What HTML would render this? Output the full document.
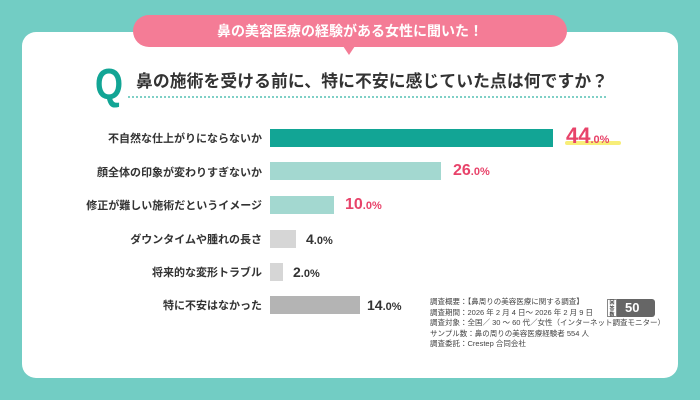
<!DOCTYPE html>
<html><head><meta charset="utf-8"><style>
body{margin:0;width:700px;height:400px;background:#72cdc4;position:relative;overflow:hidden;font-family:"Liberation Sans","Noto Sans CJK JP",sans-serif;}
.card{position:absolute;left:22px;top:32px;width:656px;height:346px;background:#fff;border-radius:14px;}
.pill{position:absolute;left:133px;top:15px;width:434px;height:32px;background:#f47c96;border-radius:16px;color:#fff;font-weight:bold;font-size:14px;text-align:center;line-height:32px;}
.tri{position:absolute;left:343px;top:46px;width:0;height:0;border-left:6px solid transparent;border-right:6px solid transparent;border-top:9px solid #f47c96;}
.q{position:absolute;left:95px;top:58px;font-size:36px;font-weight:bold;color:#12a595;line-height:44px;transform:scaleY(1.2);transform-origin:top left;}
.title{position:absolute;left:136px;top:68px;font-size:16.8px;font-weight:bold;color:#333;letter-spacing:0.1px;}
.dots{position:absolute;left:128px;top:96px;width:478px;border-top:2px dotted #7fd0c6;}
.lab{position:absolute;right:438px;font-size:11px;font-weight:bold;color:#333;white-space:nowrap;}
.bar{position:absolute;left:270px;height:18px;}
.val{position:absolute;font-weight:bold;white-space:nowrap;}
.val small{font-size:11px;}
.note{position:absolute;left:430px;top:297px;font-size:7.5px;color:#444;line-height:10.5px;}
.n{position:absolute;left:607px;top:299px;width:48px;height:18px;background:#666;border-radius:3px;color:#fff;font-weight:bold;font-size:13px;line-height:18px;}
.n span{position:absolute;left:0;top:0;width:10px;height:18px;background:#fff;border:1px solid #888;box-sizing:border-box;font-size:5px;color:#444;line-height:6px;text-align:center;}
.n b{position:absolute;left:18px;}
</style></head><body>
<div class="card"></div>
<div class="pill">鼻の美容医療の経験がある女性に聞いた！</div>
<div class="tri"></div>
<div class="q">Q</div>
<div class="title">鼻の施術を受ける前に、特に不安に感じていた点は何ですか？</div>
<div class="dots"></div>

<div class="lab" style="top:130px">不自然な仕上がりにならないか</div>
<div class="bar" style="top:129px;width:283px;background:#12a595"></div>
<div style="position:absolute;left:565px;top:141px;width:56px;height:4px;background:#f8ee78;border-radius:2px"></div>
<div class="val" style="left:566px;top:123px;font-size:22px;color:#e8436a">44<small>.0%</small></div>

<div class="lab" style="top:164px">顔全体の印象が変わりすぎないか</div>
<div class="bar" style="top:162px;width:171px;background:#a3d8d0"></div>
<div class="val" style="left:453px;top:162px;font-size:16px;color:#e8436a">26<small>.0%</small></div>

<div class="lab" style="top:197px">修正が難しい施術だというイメージ</div>
<div class="bar" style="top:196px;width:64px;background:#a3d8d0"></div>
<div class="val" style="left:345px;top:196px;font-size:16px;color:#e8436a">10<small>.0%</small></div>

<div class="lab" style="top:231px">ダウンタイムや腫れの長さ</div>
<div class="bar" style="top:230px;width:26px;background:#d6d6d6"></div>
<div class="val" style="left:306px;top:231px;font-size:14px;color:#333">4<small>.0%</small></div>

<div class="lab" style="top:264px">将来的な変形トラブル</div>
<div class="bar" style="top:263px;width:13px;background:#d6d6d6"></div>
<div class="val" style="left:293px;top:264px;font-size:14px;color:#333">2<small>.0%</small></div>

<div class="lab" style="top:297px">特に不安はなかった</div>
<div class="bar" style="top:296px;width:90px;background:#b4b4b4"></div>
<div class="val" style="left:367px;top:297px;font-size:14px;color:#333">14<small>.0%</small></div>

<div class="note">調査概要：【鼻周りの美容医療に関する調査】<br>調査期間：2026 年 2 月 4 日～ 2026 年 2 月 9 日<br>調査対象：全国／ 30 ～ 60 代／女性（インターネット調査モニター）<br>サンプル数：鼻の周りの美容医療経験者 554 人<br>調査委託：Crestep 合同会社</div>
<div class="n"><span>回答数</span><b>50</b></div>
</body></html>
